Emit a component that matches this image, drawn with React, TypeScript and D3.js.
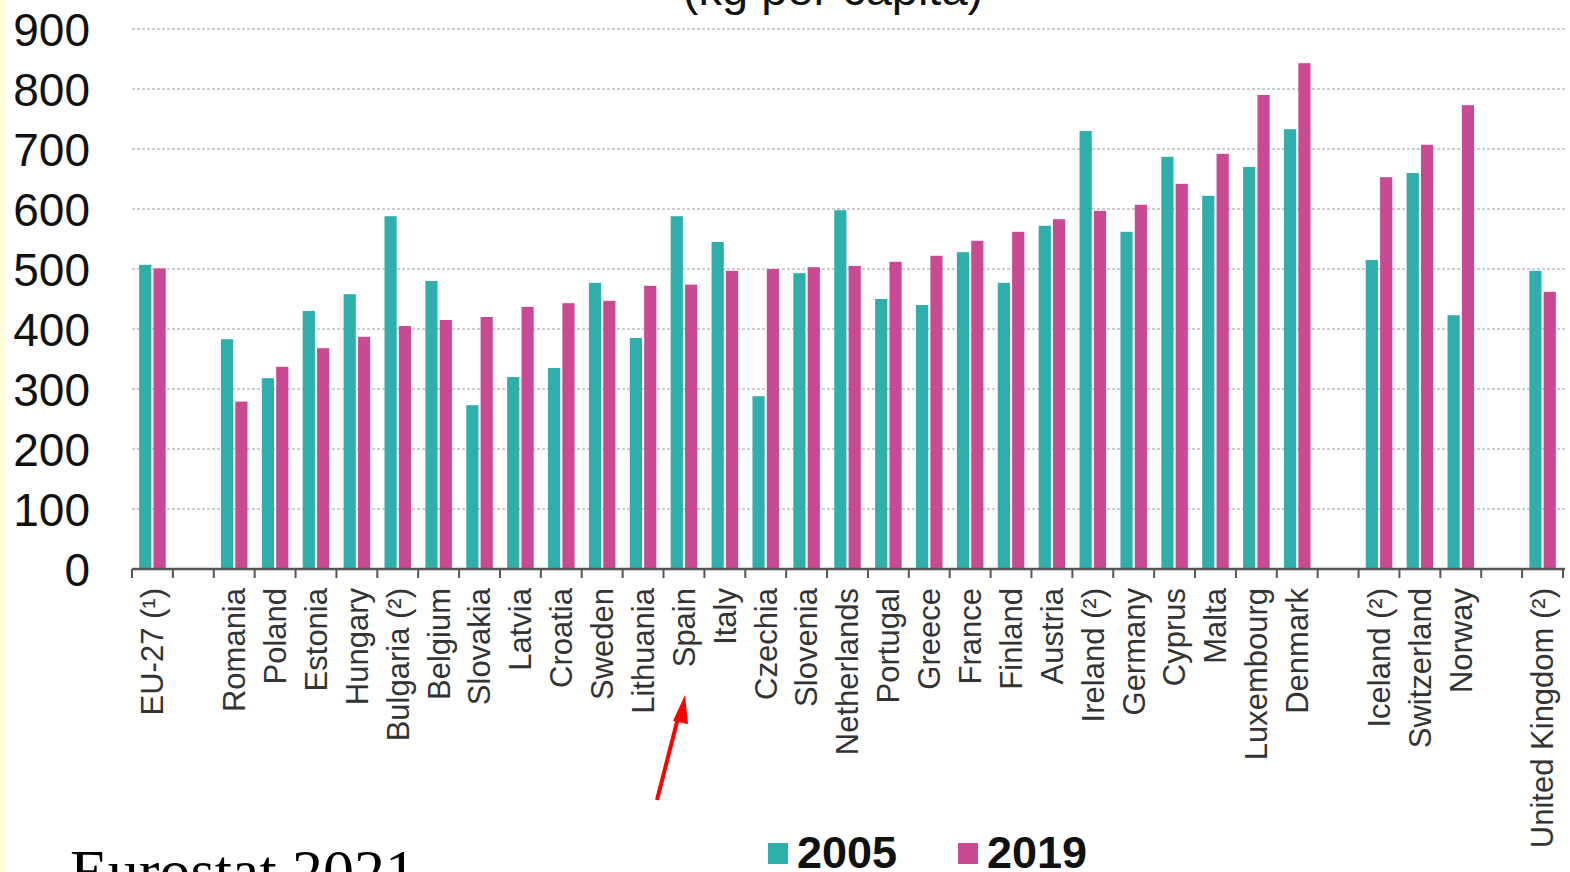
import React from "react";
import * as d3 from "d3";

const categories = [
  "EU-27 (¹)", "", "Romania", "Poland", "Estonia", "Hungary", "Bulgaria  (²)", "Belgium",
  "Slovakia", "Latvia", "Croatia", "Sweden", "Lithuania", "Spain", "Italy", "Czechia",
  "Slovenia", "Netherlands", "Portugal", "Greece", "France", "Finland", "Austria",
  "Ireland (²)", "Germany", "Cyprus", "Malta", "Luxembourg", "Denmark", " ",
  "Iceland  (²)", "Switzerland", "Norway", "  ", "United Kingdom (²)",
];
const values2005 = [
  507, null, 383, 318, 430, 458, 588, 480, 273, 320, 335, 477, 385, 588, 545, 288,
  493, 598, 450, 440, 528, 477, 572, 730, 562, 687, 622, 670, 733, null,
  515, 660, 423, null, 497,
];
const values2019 = [
  501, null, 279, 337, 368, 387, 405, 415, 420, 437, 443, 447, 472, 474, 497, 500,
  503, 505, 512, 522, 547, 562, 583, 597, 607, 642, 692, 790, 843, null,
  653, 707, 773, null, 462,
];
const series = ["2005", "2019"];
const yTicks = [0, 100, 200, 300, 400, 500, 600, 700, 800, 900];
const colors = { "2005": "#2fafac", "2019": "#c94a93" };

export default function App() {
  const W = 1570, H = 872;
  const x0 = d3.scaleBand<string>().domain(categories).range([132, 1563]).padding(0);
  const x1 = d3.scaleBand<string>().domain(series).range([0, x0.bandwidth()]).paddingInner(0.15).paddingOuter(0.5);
  const y = d3.scaleLinear().domain([0, 900]).range([569, 29]);
  const bars: any[] = [];
  categories.forEach((c, i) => {
    [values2005[i], values2019[i]].forEach((v, j) => {
      if (v == null) return;
      const s = series[j];
      bars.push(
        <rect key={c + s} x={(x0(c) as number) + (x1(s) as number)} y={y(v)} width={x1.bandwidth()}
          height={y(0) - y(v)} fill={(colors as any)[s]} />
      );
    });
  });
  const tickXs = categories.map((c) => x0(c) as number).concat([x0.range()[1]]);
  return (
    <div style={{ position: "fixed", left: 0, top: 0, width: W, height: H, background: "#fff" }}>
      <svg width={W} height={H} style={{ display: "block", fontFamily: "Arial, 'Liberation Sans', sans-serif" }}>
        <rect x={0} y={0} width={W} height={H} fill="#fff" />
        <rect x={0} y={0} width={6} height={H} fill="#ffffdf" />
        <text x={833} y={5} textAnchor="middle" fontSize={47} fill="#111">(kg per capita)</text>
        {yTicks.map((t) => (
          <g key={t}>
            {t > 0 && (
              <line x1={132} x2={1565} y1={y(t)} y2={y(t)} stroke="#bdbdbd" strokeWidth={1.3} strokeDasharray="3,2" />
            )}
            <text x={90} y={y(t)} dy="0.36em" textAnchor="end" fontSize={46} fill="#111">{t}</text>
          </g>
        ))}
        {bars}
        <line x1={132} x2={1565} y1={y(0)} y2={y(0)} stroke="#555" strokeWidth={2.5} />
        {tickXs.map((tx, i) => (
          <line key={i} x1={tx} x2={tx} y1={y(0)} y2={y(0) + 9} stroke="#555" strokeWidth={2} />
        ))}
        {categories.map((c) => (
          <text key={c} transform={`translate(${(x0(c) as number) + x0.bandwidth() / 2},588) rotate(-90)`}
            textAnchor="end" dy="0.35em" fontSize={31} fill="#333">{c.trim()}</text>
        ))}
        <line x1={657} y1={800} x2={678} y2={718} stroke="#ff0000" strokeWidth={4} />
        <path d="M685,695 L673,721 L688,724 Z" fill="#ff0000" />
        <rect x={768} y={843} width={20} height={21} fill={colors["2005"]} />
        <text x={797} y={868} fontSize={45} fontWeight="bold" fill="#111">2005</text>
        <rect x={958} y={843} width={20} height={21} fill={colors["2019"]} />
        <text x={987} y={868} fontSize={45} fontWeight="bold" fill="#111">2019</text>
        <text x={70} y={892} fontSize={62} fontFamily="'Liberation Serif', 'Times New Roman', serif" fill="#000">Eurostat 2021</text>
      </svg>
    </div>
  );
}
